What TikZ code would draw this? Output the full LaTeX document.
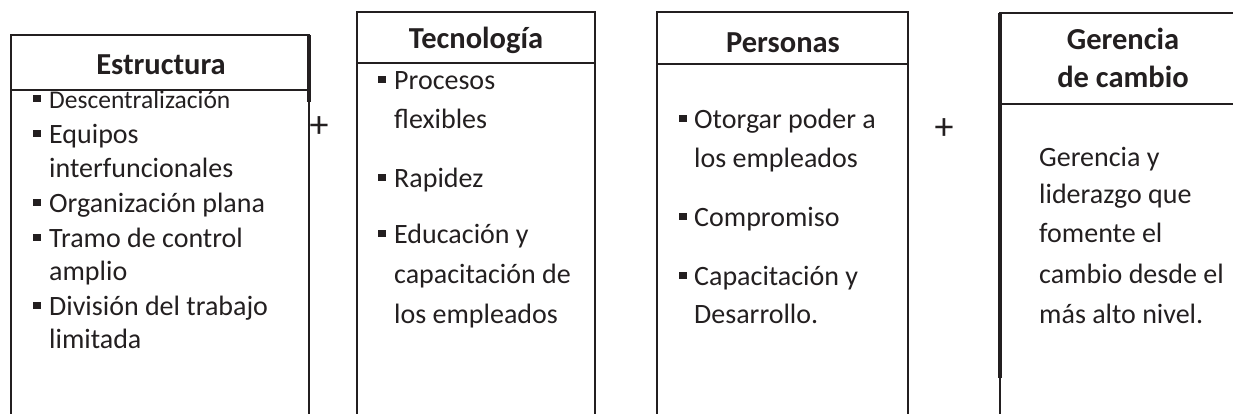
\documentclass[tikz,border=0pt]{standalone}
\usepackage{fontspec}
\setmainfont{Carlito}
\definecolor{ink}{HTML}{231F20}
\newcommand\bul[1]{\makebox[#1][l]{\rule[6pt]{7.5pt}{7.5pt}}}
\tikzset{
  outline/.style={draw=ink, line width=2pt},
  thickedge/.style={draw=ink, line width=3.2pt},
  headline/.style={draw=ink, line width=1.3pt},
  txt/.style={inner sep=0pt, anchor=base west, text=ink, font=\fontsize{28}{32}\selectfont},
  small/.style={txt, font=\fontsize{25.5}{29}\selectfont},
  ttl/.style={inner sep=0pt, anchor=base, text=ink, font=\fontsize{30.5}{34}\selectfont\bfseries},
  plus/.style={inner sep=0pt, anchor=center, text=ink, font=\fontsize{38}{42}\selectfont},
}
\begin{document}
\begin{tikzpicture}[x=1pt,y=-1pt]
\useasboundingbox (0,0) rectangle (1233,413);
% box 1
\draw[outline] (11,420) -- (11,35) -- (309,35) -- (309,420);
\draw[thickedge] (309,35) -- (309,102);
\draw[headline] (11,90) -- (309,90);
% box 2
\draw[outline] (357,420) -- (357,12) -- (595,12) -- (595,420);
\draw[headline] (357,63) -- (595,63);
% box 3
\draw[outline] (657,420) -- (657,12) -- (908,12) -- (908,420);
\draw[headline] (657,64) -- (908,64);
% box 4
\draw[outline] (1000,420) -- (1000,13) -- (1240,13);
\draw[thickedge] (1000,13) -- (1000,378);
\draw[headline] (1000,104) -- (1240,104);

% titles
\node[ttl] (t1) at (161,74) {Estructura};
\node[ttl] (t2) at (476,48) {Tecnología};
\node[ttl] (t3) at (783,52) {Personas};
\node[ttl] (t4a) at (1123,49) {Gerencia};
\node[ttl] (t4b) at (1123,87) {de cambio};

% plus signs
\node[plus] (p1) at (319,127) {+};
\node[plus] (p2) at (944,129) {+};

% box 1 text
\node[small] (a1) at (33,108) {\bul{16pt}Descentralización};
\node[txt] (a2) at (33,143) {\bul{16pt}Equipos};
\node[txt] (a3) at (49,177) {interfuncionales};
\node[txt] (a4) at (33,212) {\bul{16pt}Organización plana};
\node[txt] (a5) at (33,247) {\bul{16pt}Tramo de control};
\node[txt] (a6) at (49,280) {amplio};
\node[txt] (a7) at (33,315) {\bul{16pt}División del trabajo};
\node[txt] (a8) at (49,348) {limitada};

% box 2 text
\node[txt] (b1) at (378,89) {\bul{16pt}Procesos};
\node[txt] (b2) at (394,128) {flexibles};
\node[txt] (b3) at (378,187) {\bul{16pt}Rapidez};
\node[txt] (b4) at (378,243) {\bul{16pt}Educación y};
\node[txt] (b5) at (394,283) {capacitación de};
\node[txt] (b6) at (394,323) {los empleados};

% box 3 text
\node[txt] (c1) at (679,128) {\bul{15pt}Otorgar poder a};
\node[txt] (c2) at (694,167) {los empleados};
\node[txt] (c3) at (679,226) {\bul{15pt}Compromiso};
\node[txt] (c4) at (679,285) {\bul{15pt}Capacitación y};
\node[txt] (c5) at (694,323) {Desarrollo.};

% box 4 text
\node[txt] (d1) at (1039,166) {Gerencia y};
\node[txt] (d2) at (1039,203) {liderazgo que};
\node[txt] (d3) at (1039,242) {fomente el};
\node[txt] (d4) at (1039,283) {cambio desde el};
\node[txt] (d5) at (1039,323) {más alto nivel.};
\end{tikzpicture}
\end{document}
